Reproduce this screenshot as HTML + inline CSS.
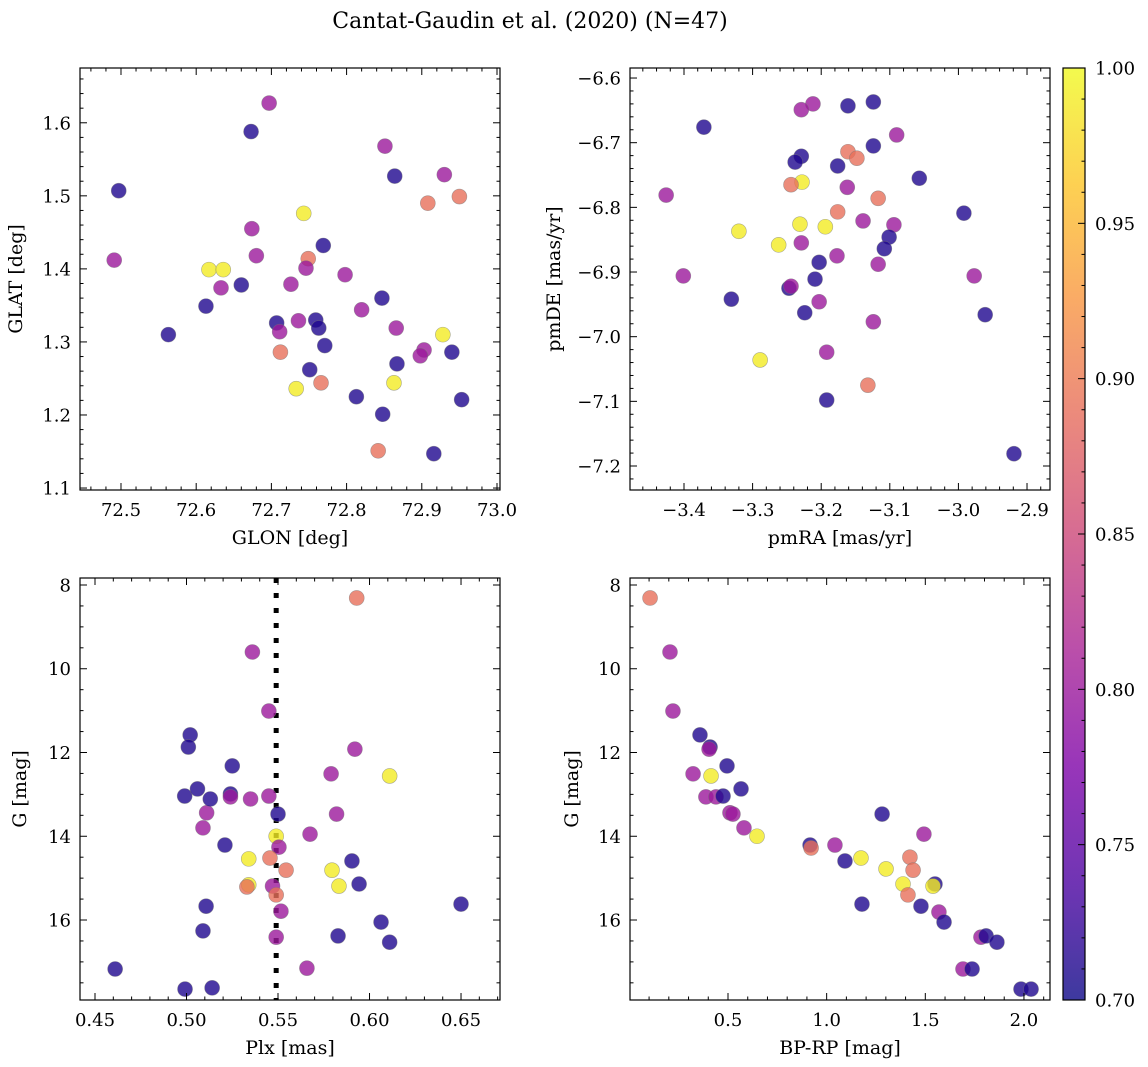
<!DOCTYPE html>
<html><head><meta charset="utf-8">
<style>
html,body{margin:0;padding:0;background:#fff;}
svg{display:block;font-family:"DejaVu Serif","Liberation Serif",serif;}
</style></head>
<body>
<svg id="fig" width="1148" height="1067" viewBox="0 0 1148 1067" xmlns="http://www.w3.org/2000/svg">
<defs>
<linearGradient id="plasma" x1="0" y1="1" x2="0" y2="0">
<stop offset="0" stop-color="#0d0887"/><stop offset="0.125" stop-color="#4c02a1"/><stop offset="0.25" stop-color="#7e03a8"/><stop offset="0.375" stop-color="#a92395"/><stop offset="0.5" stop-color="#cc4778"/><stop offset="0.625" stop-color="#e66c5c"/><stop offset="0.75" stop-color="#f89540"/><stop offset="0.875" stop-color="#fdc527"/><stop offset="1" stop-color="#f0f921"/>
</linearGradient>
</defs>
<text x="530" y="28" font-size="22" text-anchor="middle">Cantat-Gaudin et al. (2020) (N=47)</text>
</svg>
<script>
// ---- Panel 1: GLON vs GLAT ----
const p1x=[72.697,72.673,72.851,72.497,72.864,72.930,72.950,72.908,72.743,72.674,72.769,72.491,72.617,72.636,72.680,72.749,72.746,72.798,72.726,72.633,72.660,72.847,72.613,72.820,72.563,72.928,72.707,72.736,72.759,72.763,72.711,72.866,72.771,72.712,72.903,72.898,72.940,72.867,72.751,72.863,72.766,72.733,72.813,72.953,72.848,72.842,72.916];
const p1y=[1.627,1.588,1.568,1.507,1.527,1.529,1.499,1.490,1.476,1.455,1.432,1.412,1.399,1.399,1.418,1.414,1.401,1.392,1.379,1.374,1.378,1.360,1.349,1.344,1.310,1.310,1.326,1.329,1.330,1.319,1.314,1.319,1.295,1.286,1.289,1.281,1.286,1.270,1.262,1.244,1.244,1.236,1.225,1.221,1.201,1.151,1.147];
const p1c=[0.80,0.71,0.80,0.71,0.71,0.80,0.89,0.89,0.99,0.80,0.71,0.80,0.99,0.99,0.80,0.89,0.80,0.80,0.80,0.80,0.71,0.71,0.71,0.80,0.71,0.99,0.71,0.80,0.71,0.71,0.80,0.80,0.71,0.89,0.80,0.80,0.71,0.71,0.71,0.99,0.89,0.99,0.71,0.71,0.71,0.89,0.71];
// ---- Panel 2: pmRA vs pmDE ----
const p2x=[-3.124,-3.161,-3.212,-3.229,-3.371,-3.090,-3.124,-3.229,-3.238,-3.176,-3.161,-3.148,-3.057,-3.228,-3.244,-3.162,-3.426,-3.117,-2.992,-3.176,-3.139,-3.231,-3.194,-3.320,-3.094,-3.101,-3.262,-3.229,-3.177,-3.203,-3.117,-3.108,-3.401,-2.977,-3.209,-3.247,-3.331,-3.244,-3.203,-3.224,-3.124,-2.961,-3.192,-3.289,-3.132,-3.192,-2.919];
const p2y=[-6.637,-6.643,-6.640,-6.649,-6.676,-6.688,-6.705,-6.721,-6.730,-6.736,-6.714,-6.724,-6.755,-6.761,-6.765,-6.769,-6.781,-6.786,-6.809,-6.807,-6.821,-6.826,-6.830,-6.837,-6.827,-6.846,-6.858,-6.855,-6.875,-6.885,-6.888,-6.864,-6.906,-6.906,-6.911,-6.925,-6.942,-6.922,-6.946,-6.963,-6.977,-6.966,-7.024,-7.036,-7.075,-7.098,-7.181];
const p2c=[0.71,0.71,0.80,0.80,0.71,0.80,0.71,0.71,0.71,0.71,0.89,0.89,0.71,0.99,0.89,0.80,0.80,0.89,0.71,0.89,0.80,0.99,0.99,0.99,0.80,0.71,0.99,0.80,0.80,0.71,0.80,0.71,0.80,0.80,0.71,0.71,0.71,0.80,0.80,0.71,0.80,0.71,0.80,0.99,0.89,0.71,0.71];
// ---- Panel 3: Plx vs G ----
const p3x=[0.593,0.536,0.545,0.502,0.501,0.592,0.525,0.611,0.579,0.499,0.506,0.524,0.524,0.535,0.545,0.511,0.550,0.582,0.509,0.521,0.5675,0.549,0.5505,0.5456,0.534,0.5904,0.5544,0.5795,0.5943,0.534,0.533,0.547,0.5833,0.549,0.5107,0.65,0.5516,0.6063,0.509,0.5828,0.549,0.611,0.461,0.5658,0.4992,0.514];
const p3y=[8.31,9.6,11.01,11.58,11.87,11.92,12.32,12.56,12.51,13.04,12.87,12.99,13.06,13.11,13.04,13.44,13.47,13.47,13.80,14.21,13.95,14.0,14.26,14.52,14.54,14.59,14.81,14.81,15.14,15.16,15.21,15.19,15.19,15.40,15.67,15.62,15.79,16.05,16.26,16.38,16.41,16.53,17.17,17.15,17.65,17.62];
const p3c=[0.89,0.80,0.80,0.71,0.71,0.80,0.71,0.99,0.80,0.71,0.71,0.71,0.80,0.80,0.80,0.80,0.71,0.80,0.80,0.71,0.80,0.99,0.80,0.89,0.99,0.71,0.89,0.99,0.71,0.99,0.89,0.80,0.99,0.89,0.71,0.71,0.80,0.71,0.71,0.71,0.80,0.71,0.71,0.80,0.71,0.71];
// ---- Panel 4: BP-RP vs G ----
const p4x=[0.105,0.206,0.221,0.358,0.409,0.404,0.495,0.414,0.323,0.388,0.439,0.475,0.566,0.51,0.525,0.581,0.647,1.281,1.493,1.042,0.916,0.921,1.174,1.422,1.093,1.301,1.438,1.387,1.549,1.539,1.412,1.478,1.179,1.569,1.595,1.782,1.808,1.863,1.691,1.737,1.985,2.036];
const p4y=[8.31,9.6,11.01,11.58,11.87,11.92,12.32,12.56,12.51,13.06,13.06,13.04,12.87,13.44,13.47,13.80,14.0,13.47,13.95,14.21,14.21,14.28,14.52,14.50,14.59,14.78,14.81,15.14,15.14,15.19,15.40,15.67,15.62,15.81,16.05,16.41,16.38,16.53,17.17,17.17,17.65,17.65];
const p4c=[0.89,0.80,0.80,0.71,0.71,0.80,0.71,0.99,0.80,0.80,0.80,0.71,0.71,0.80,0.80,0.80,0.99,0.71,0.80,0.80,0.71,0.89,0.99,0.89,0.71,0.99,0.89,0.99,0.71,0.99,0.89,0.71,0.71,0.80,0.71,0.80,0.71,0.71,0.80,0.71,0.71,0.71];
const extra3x=[0.513], extra3y=[13.11], extra3c=[0.71];
const cbTicks=[0.70,0.75,0.80,0.85,0.90,0.95,1.00];

const NS="http://www.w3.org/2000/svg";
const svg=document.getElementById('fig');
function mk(tag,attrs,parent){const e=document.createElementNS(NS,tag);for(const k in attrs)e.setAttribute(k,attrs[k]);(parent||svg).appendChild(e);return e;}
const stops=[[0,13,8,135],[0.125,76,2,161],[0.25,126,3,168],[0.375,169,35,149],[0.5,204,71,120],[0.625,230,108,92],[0.75,248,149,64],[0.875,253,197,39],[1,240,249,33]];
function plasma(v){let t=(v-0.7)/0.3;t=Math.max(0,Math.min(1,t));for(let i=1;i<stops.length;i++){if(t<=stops[i][0]){const a=stops[i-1],b=stops[i];const f=(t-a[0])/(b[0]-a[0]);return `rgb(${Math.round(a[1]+f*(b[1]-a[1]))},${Math.round(a[2]+f*(b[2]-a[2]))},${Math.round(a[3]+f*(b[3]-a[3]))})`;}}return 'rgb(240,249,33)';}

const TF=18, LF=19;
function panel(o){
  const g=mk('g',{});
  
  
  const X=v=>o.L+(v-o.x0)/(o.x1-o.x0)*(o.R-o.L);
  const Y=v=>o.yinv? o.T+(v-o.y0)/(o.y1-o.y0)*(o.B-o.T) : o.B-(v-o.y0)/(o.y1-o.y0)*(o.B-o.T);
  if(o.vline!==undefined){const l=mk('line',{x1:X(o.vline),x2:X(o.vline),y1:o.T,y2:o.B,stroke:'#000','stroke-width':5,'stroke-dasharray':'5 10'},g);}
  const draw=(xs,ys,cs)=>{for(let i=0;i<xs.length;i++){const c=mk('circle',{cx:X(xs[i]),cy:Y(ys[i]),r:7.5,fill:plasma(cs[i]),'fill-opacity':0.8,stroke:'#777','stroke-opacity':0.6,'stroke-width':0.6},g);}};
  draw(o.xs,o.ys,o.cs);
  if(o.ex)draw(o.ex[0],o.ex[1],o.ex[2]);
  const fr=mk('rect',{x:o.L,y:o.T,width:o.R-o.L,height:o.B-o.T,fill:'none',stroke:'#000','stroke-width':1.2},g);
  
  const eps=1e-9;
  const xa=mk('g',{},g);
  for(let k=Math.ceil(o.x0/o.xmin-eps);k*o.xmin<=o.x1+eps;k++){const v=k*o.xmin;const px=X(v);const maj=Math.abs(v/o.xmaj-Math.round(v/o.xmaj))<1e-6;const len=maj?7:3.5;
    mk('line',{x1:px,x2:px,y1:o.B,y2:o.B-len,stroke:'#000','stroke-width':1},xa);mk('line',{x1:px,x2:px,y1:o.T,y2:o.T+len,stroke:'#000','stroke-width':1},xa);
    if(maj){const t=mk('text',{x:px,y:o.B+26,'font-size':TF,'text-anchor':'middle'},xa);t.textContent=(v<0?'\u2212':'')+Math.abs(v).toFixed(o.xdec);}}
  const ya=mk('g',{},g);
  const ylo=Math.min(o.y0,o.y1),yhi=Math.max(o.y0,o.y1);
  for(let k=Math.ceil(ylo/o.ymin-eps);k*o.ymin<=yhi+eps;k++){const v=k*o.ymin;const py=Y(v);const maj=Math.abs(v/o.ymaj-Math.round(v/o.ymaj))<1e-6;const len=maj?7:3.5;
    mk('line',{x1:o.L,x2:o.L+len,y1:py,y2:py,stroke:'#000','stroke-width':1},ya);mk('line',{x1:o.R,x2:o.R-len,y1:py,y2:py,stroke:'#000','stroke-width':1},ya);
    if(maj){const t=mk('text',{x:o.L-9,y:py+6.5,'font-size':TF,'text-anchor':'end'},ya);t.textContent=(v<0?'\u2212':'')+Math.abs(v).toFixed(o.ydec);}}
  const xl=mk('text',{x:(o.L+o.R)/2,y:o.B+54,'font-size':LF,'text-anchor':'middle'},g);xl.textContent=o.xlab;
  const yx=o.ylx,yy=(o.T+o.B)/2;const yl=mk('text',{x:yx,y:yy,'font-size':LF,'text-anchor':'middle',transform:`rotate(-90 ${yx} ${yy})`},g);yl.textContent=o.ylab;
}
panel({name:'glon-glat-panel',L:80,R:500,T:68,B:490,x0:72.4455,x1:73.004,y0:1.0973,y1:1.675,xmaj:0.1,xmin:0.02,ymaj:0.1,ymin:0.02,xdec:1,ydec:1,xs:p1x,ys:p1y,cs:p1c,xlab:'GLON [deg]',ylab:'GLAT [deg]',ylx:22});
panel({name:'proper-motion-panel',L:630,R:1050,T:68,B:490,x0:-3.4787,x1:-2.8665,y0:-7.2371,y1:-6.5845,xmaj:0.1,xmin:0.02,ymaj:0.1,ymin:0.02,xdec:1,ydec:1,xs:p2x,ys:p2y,cs:p2c,xlab:'pmRA [mas/yr]',ylab:'pmDE [mas/yr]',ylx:560});
panel({name:'parallax-magnitude-panel',L:80,R:500,T:578,B:1000,x0:0.4418,x1:0.6713,y0:7.833,y1:17.91,yinv:true,xmaj:0.05,xmin:0.01,ymaj:2,ymin:0.5,xdec:2,ydec:0,xs:p3x,ys:p3y,cs:p3c,ex:[extra3x,extra3y,extra3c],vline:0.549,xlab:'Plx [mas]',ylab:'G [mag]',ylx:26});
panel({name:'color-magnitude-panel',L:630,R:1050,T:578,B:1000,x0:0.0033,x1:2.132,y0:7.833,y1:17.91,yinv:true,xmaj:0.5,xmin:0.1,ymaj:2,ymin:0.5,xdec:1,ydec:0,xs:p4x,ys:p4y,cs:p4c,xlab:'BP-RP [mag]',ylab:'G [mag]',ylx:578});

const cb=mk('g',{});


const cL=1063,cR=1085,cT=68,cB=1000;
mk('rect',{x:cL,y:cT,width:cR-cL,height:cB-cT,fill:'url(#plasma)','fill-opacity':0.8},cb);
mk('rect',{x:cL,y:cT,width:cR-cL,height:cB-cT,fill:'none',stroke:'#000','stroke-width':1.2},cb);
const CY=v=>cB-(v-0.7)/0.3*(cB-cT);
for(let k=70;k<=100;k++){const v=k/100;const maj=k%5===0;const py=CY(v);mk('line',{x1:cR,x2:cR-(maj?7:3.5),y1:py,y2:py,stroke:'#000','stroke-width':1},cb);}
cbTicks.forEach(v=>{const t=mk('text',{x:cR+10,y:CY(v)+6.5,'font-size':TF},cb);t.textContent=v.toFixed(2);});
</script>
</body></html>
